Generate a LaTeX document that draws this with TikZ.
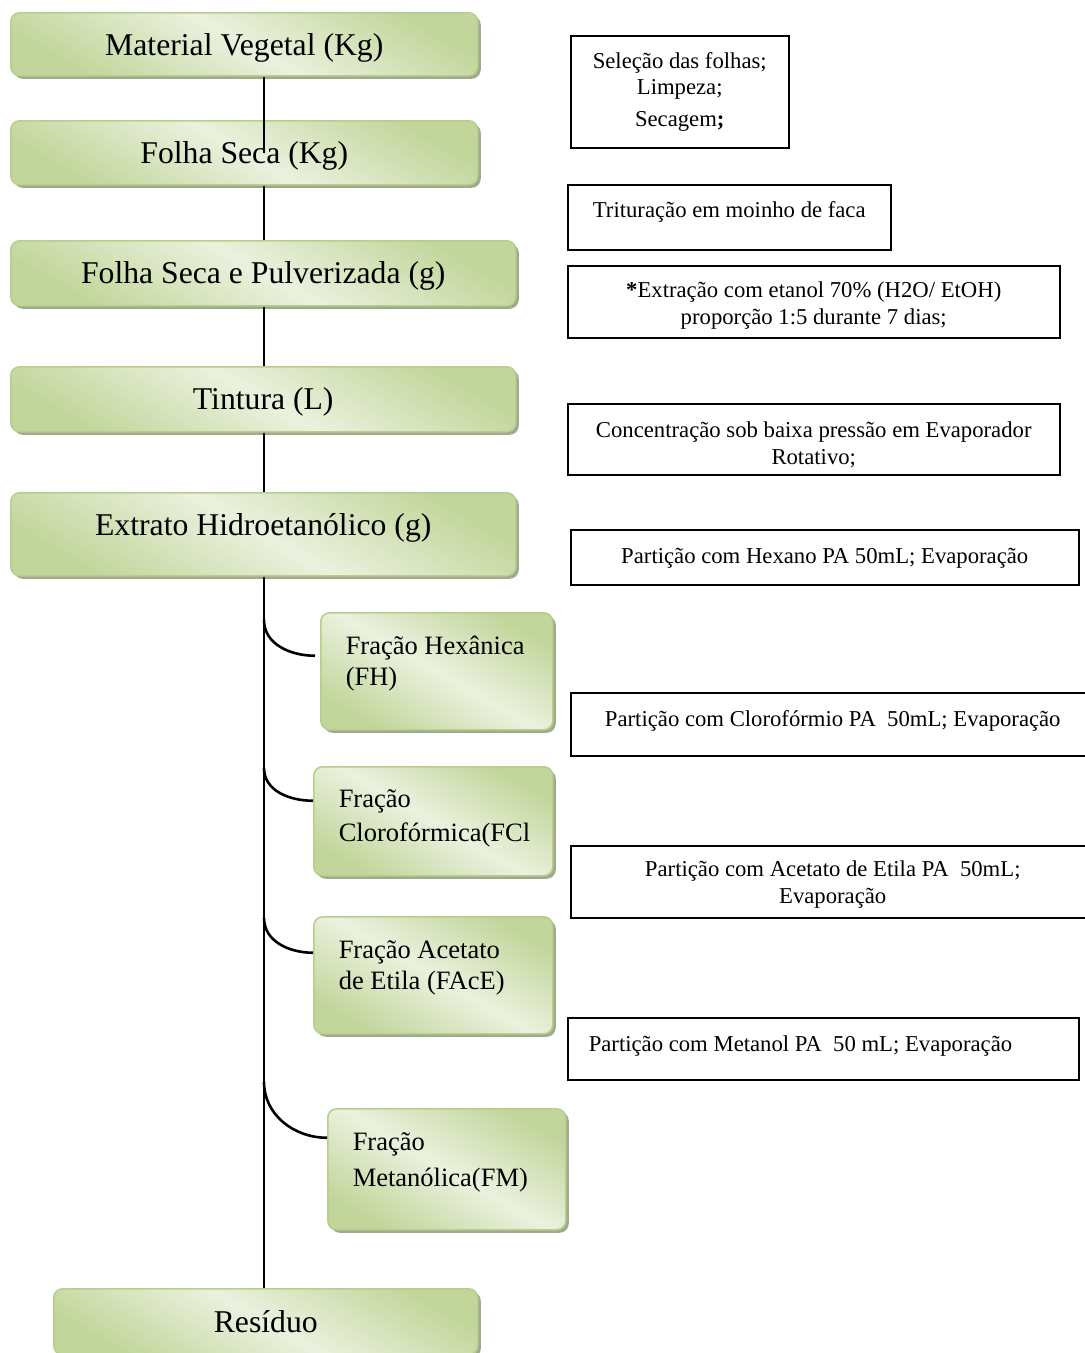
\documentclass[tikz,border=0pt]{standalone}
\usepackage{fontspec}
\setmainfont{Liberation Serif}
\usetikzlibrary{positioning}
\usetikzlibrary{shadows}
\definecolor{leafdark}{HTML}{C2D69B}
\definecolor{leaflight}{HTML}{EBF1DE}
\definecolor{leafedge}{HTML}{B7CE8C}
\definecolor{leafshadow}{HTML}{9EAA8B}
\tikzset{
    stage/.style = {rectangle, rounded corners=9pt, draw=leafedge, line width=1.5pt,
        top color=leafdark, bottom color=leafdark, middle color=leaflight, shading angle=-30,
        drop shadow={shadow xshift=3pt, shadow yshift=-3pt, fill=leafshadow, opacity=1},
        anchor=north west, inner sep=0pt, text height=42.5pt, font=\fontsize{31.7}{38}\selectfont},
    fraction/.style = {stage, align=flush left, inner xsep=25pt, font=\fontsize{26.5}{31}\selectfont},
    procedure/.style = {rectangle, draw, line width=1.5pt, anchor=north west, inner ysep=0pt,
        inner xsep=8pt, align=flush center, font=\fontsize{22.7}{27}\selectfont},
    trunk/.style = {line width=1.5pt},
    branch/.style = {line width=2.6pt}}

\begin{document}
\begin{tikzpicture}[x=1pt, y=-1pt]
    \useasboundingbox (0,0) rectangle (1085,1353);
    \node[stage, minimum width=467pt, text depth=20.5pt] (mat) at (10,12) {Material Vegetal (Kg)};
    \node[stage, minimum width=467pt, text depth=21.5pt] (folha) at (10,120) {Folha Seca (Kg)};
    \node[stage, minimum width=505pt, text depth=22.5pt] (pulv) at (10,240) {Folha Seca e Pulverizada (g)};
    \node[stage, minimum width=505pt, text depth=22.5pt] (tint) at (10,366) {Tintura (L)};
    \node[stage, minimum width=505pt, text height=43pt, text depth=40pt] (extr) at (10,492) {Extrato Hidroetanólico (g)};
    \node[fraction, text width=182pt, text height=42pt, text depth=75pt] (hex) at (320,612) {Fração Hexânica\\(FH)};
    \node[fraction, text width=189pt, text height=41pt, text depth=68pt] (clo) at (313,766) {Fração\\[3pt]Clorofórmica(FCl};
    \node[fraction, text width=189pt, text height=42pt, text depth=75pt] (ace) at (313,916) {Fração Acetato\\de Etila (FAcE)};
    \node[fraction, text width=188pt, text height=42pt, text depth=79pt] (met) at (327,1108) {Fração\\[5pt]Metanólica(FM)};
    \node[stage, minimum width=424pt, text height=43.5pt, text depth=22.5pt] (res) at (53,1288) {Resíduo};

    \node[procedure, text width=202pt, text height=32.5pt, text depth=79.5pt] (sel) at (570,35) {Seleção das folhas;\\[-1pt]Limpeza;\\[5pt]Secagem\textbf{;}};
    \node[procedure, text width=307pt, text height=32.5pt, text depth=32.5pt] (trit) at (567,184) {Trituração em moinho de faca};
    \node[procedure, text width=476pt, text height=31.5pt, text depth=40.5pt] (etoh) at (567,265) {\textbf{*}Extração com etanol 70\% (H2O/ EtOH)\\proporção 1:5 durante 7 dias;};
    \node[procedure, text width=476pt, text height=33.5pt, text depth=37.5pt] (conc) at (567,403) {Concentração sob baixa pressão em Evaporador\\Rotativo;};
    \node[procedure, text width=492pt, text height=33.5pt, text depth=21.5pt] (phex) at (570,529) {Partição com Hexano PA 50mL; Evaporação};
    \node[procedure, text width=508pt, text height=33.5pt, text depth=29.5pt] (pclo) at (570,692) {Partição com Clorofórmio PA\ \ 50mL; Evaporação};
    \node[procedure, text width=508pt, text height=30.5pt, text depth=41.5pt] (pace) at (570,845) {Partição com Acetato de Etila PA\ \ 50mL;\\Evaporação};
    \node[procedure, align=flush left, inner xsep=21pt, text width=469pt, text height=33.5pt, text depth=28.5pt] (pmet) at (567,1017) {Partição com Metanol PA\ \ 50 mL;\ Evaporação};

    \coordinate (axis) at (264,0);
    \coordinate (b1) at (264,620);
    \coordinate (b2) at (264,768);
    \coordinate (b3) at (264,918);
    \coordinate (b4) at (264,1082);
    \draw[trunk] (mat.south -| axis) -- (folha.center -| axis);
    \draw[trunk] (folha.south -| axis) -- (pulv.north -| axis);
    \draw[trunk] (pulv.south -| axis) -- (tint.north -| axis);
    \draw[trunk] (tint.south -| axis) -- (extr.north -| axis);
    \draw[trunk] (extr.south -| axis) -- (res.north -| axis);
    \draw[branch] (b1) to[out=-90, in=180] ([xshift=-5pt, yshift=15.5pt]hex.west);
    \draw[branch] (b2) to[out=-90, in=180] ([yshift=20.5pt]clo.west);
    \draw[branch] (b3) to[out=-90, in=180] ([yshift=22.5pt]ace.west);
    \draw[branch] (b4) to[out=-90, in=180] ([yshift=31.5pt]met.west);
\end{tikzpicture}
\end{document}
